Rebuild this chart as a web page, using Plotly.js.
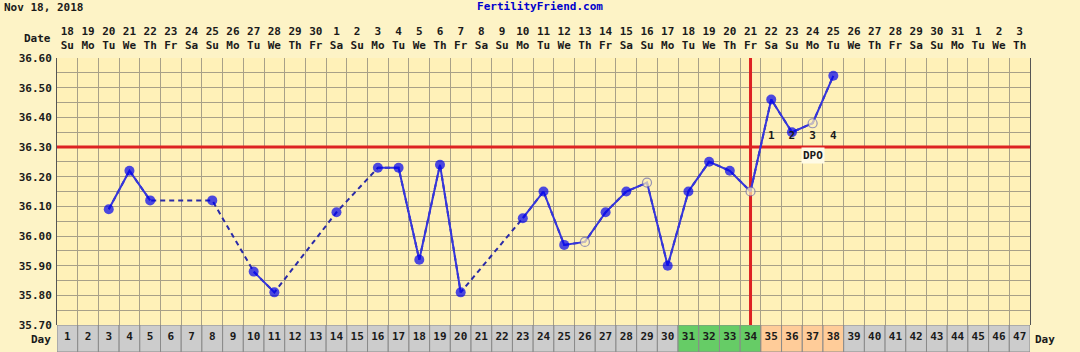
<!DOCTYPE html>
<html><head><meta charset="utf-8">
<script src="https://cdn.plot.ly/plotly-3.0.1.min.js"></script>
<style>html,body{margin:0;padding:0;background:#fdf3c6;}#chart{width:1080px;height:352px;}</style>
</head><body><div id="chart"></div>
<script>
const chartDate = 'Nov 18, 2018';
const siteName = 'FertilityFriend.com';
const dayNums = [1,2,3,4,5,6,7,8,9,10,11,12,13,14,15,16,17,18,19,20,21,22,23,24,25,26,27,28,29,30,31,32,33,34,35,36,37,38,39,40,41,42,43,44,45,46,47];
const dateNums = ['18','19','20','21','22','23','24','25','26','27','28','29','30','1','2','3','4','5','6','7','8','9','10','11','12','13','14','15','16','17','18','19','20','21','22','23','24','25','26','27','28','29','30','31','1','2','3'];
const weekdays = ['Su','Mo','Tu','We','Th','Fr','Sa','Su','Mo','Tu','We','Th','Fr','Sa','Su','Mo','Tu','We','Th','Fr','Sa','Su','Mo','Tu','We','Th','Fr','Sa','Su','Mo','Tu','We','Th','Fr','Sa','Su','Mo','Tu','We','Th','Fr','Sa','Su','Mo','Tu','We','Th'];
const temps = [null,null,36.09,36.22,36.12,null,null,36.12,null,35.88,35.81,null,null,36.08,null,36.23,36.23,35.92,36.24,35.81,null,null,36.06,36.15,35.97,35.98,36.08,36.15,36.18,35.90,36.15,36.25,36.22,36.15,36.46,36.35,36.38,36.54,null,null,null,null,null,null,null,null,null];
const openDays = [26,29,34,37];
const phases = ['n','n','n','n','n','n','n','n','n','n','n','n','n','n','n','n','n','n','n','n','n','n','n','n','n','n','n','n','n','n','f','f','f','f','l','l','l','l','n','n','n','n','n','n','n','n','n'];
const tempTickLabels = ['35.70','35.80','35.90','36.00','36.10','36.20','36.30','36.40','36.50','36.60'];
const coverline = 36.30;
const ovulationDay = 34;
const dpoDays = [35,36,37,38];
const dpoLabels = ['1','2','3','4'];
const dpoTitle = 'DPO';

const BG = '#fdf3c6', PLOT_BG = '#fff1b8', GRID = '#a8a088';
const FONT = {family:'DejaVu Sans Mono', size:11, color:'#1a1a1a', weight:'bold'};
const phaseColor = {n:'#cccccc', f:'#66cc66', l:'#ffcc99'};

const yVals = [], yText = [];
tempTickLabels.forEach((lab, i) => {
  const v = parseFloat(lab);
  yVals.push(v); yText.push(lab);
  if (i < tempTickLabels.length - 1) { yVals.push(Math.round((v + 0.05) * 100) / 100); yText.push(''); }
});
const yMin = parseFloat(tempTickLabels[0]), yMax = parseFloat(tempTickLabels[tempTickLabels.length - 1]);
const xRange = [dayNums[0] - 0.5, dayNums[dayNums.length - 1] + 0.5];

const isOpen = dayNums.map(d => openDays.includes(d));
const traces = [
  {x: dayNums, y: temps, type:'scatter', mode:'lines', connectgaps:true, xaxis:'x', yaxis:'y',
   line:{color:'#2a2aa8', width:2, dash:'5px,4px'}, hoverinfo:'skip'},
  {x: dayNums, y: temps, type:'scatter', mode:'lines+markers', connectgaps:false, xaxis:'x2', yaxis:'y',
   line:{color:'#3535dc', width:2},
   marker:{size: isOpen.map(o => o ? 9 : 10), symbol:'circle',
     color: isOpen.map(o => o ? PLOT_BG : '#0000ee'),
     line:{color: isOpen.map(o => o ? '#6a6ab0' : '#0000ee'), width: isOpen.map(o => o ? 1.2 : 0)}}},
  {x: dpoDays, y: dpoDays.map(() => coverline + 0.035), type:'scatter', mode:'text', text: dpoLabels,
   textfont: FONT, xaxis:'x3', yaxis:'y', hoverinfo:'skip'},
  {x: dayNums, y: dayNums.map(() => 1), type:'bar', xaxis:'x', yaxis:'y2', width:1,
   marker:{color: phases.map(p => phaseColor[p]), line:{color:'#8a8a8a', width:1}}, hoverinfo:'skip'},
  {x: dayNums, y: dayNums.map(() => 0.55), type:'scatter', mode:'text', text: dayNums.map(String),
   textfont: FONT, xaxis:'x', yaxis:'y2', hoverinfo:'skip'}
];

const rowFrac = 27 / 294;
const layout = {
  width:1080, height:352, paper_bgcolor:BG, plot_bgcolor:PLOT_BG, showlegend:false,
  margin:{l:57, r:50, t:58, b:0},
  font: FONT,
  bargap:0,
  title:{text: siteName, x:0.5, xref:'container', xanchor:'center', y:1 - 6/352, yref:'container', yanchor:'middle',
    font:{family:'DejaVu Sans Mono', size:11, color:'#0000cc', weight:'bold'}},
  xaxis:{range:xRange, tickmode:'linear', tick0:0.5, dtick:1, showticklabels:false, ticks:'',
    showgrid:true, gridcolor:GRID, gridwidth:1, zeroline:false, anchor:'y', fixedrange:true},
  xaxis2:{range:xRange, overlaying:'x', side:'top', anchor:'y', tickmode:'array', tickvals:dayNums, ticktext:dateNums,
    ticks:'', showgrid:false, zeroline:false, tickfont:FONT, ticklabelstandoff:20},
  xaxis3:{range:xRange, overlaying:'x', side:'top', anchor:'y', tickmode:'array', tickvals:dayNums, ticktext:weekdays,
    ticks:'', showgrid:false, zeroline:false, tickfont:FONT, ticklabelstandoff:6},
  yaxis:{domain:[rowFrac, 1], range:[yMin, yMax], tickmode:'array', tickvals:yVals, ticktext:yText, ticks:'',
    showgrid:true, gridcolor:GRID, gridwidth:1, zeroline:false, tickfont:FONT, showline:true, linecolor:'#555', mirror:true,
    ticklabelstandoff:2},
  yaxis3:{range:[yMin, yMax], overlaying:'y', side:'right', anchor:'x', tickmode:'array', tickvals:yVals, ticktext:yText,
    ticks:'', showgrid:false, zeroline:false, tickfont:FONT, ticklabelstandoff:2},
  yaxis2:{domain:[0, rowFrac], range:[0, 1], showticklabels:false, showgrid:false, zeroline:false, ticks:''},
  shapes:[
    {type:'line', xref:'x', yref:'y', x0:xRange[0], x1:xRange[1], y0:coverline, y1:coverline, line:{color:'#dd2222', width:3}, layer:'between'},
    {type:'line', xref:'x', yref:'y', x0:ovulationDay, x1:ovulationDay, y0:yMin, y1:yMax, line:{color:'#dd2222', width:3}, layer:'between'}
  ],
  annotations:[
    {text: chartDate, xref:'paper', yref:'paper', x:0, y:1, xanchor:'left', yanchor:'middle', xshift:-55, yshift:51, showarrow:false, font:FONT},
    {text:'Date', xref:'paper', yref:'paper', x:0, y:1, xanchor:'right', yanchor:'middle', xshift:-4, yshift:20, showarrow:false, font:FONT},
    {text:'Day', xref:'paper', yref:'paper', x:0, y:rowFrac/2, xanchor:'right', yanchor:'middle', xshift:-4, yshift:-1, showarrow:false, font:FONT},
    {text:'Day', xref:'paper', yref:'paper', x:1, y:rowFrac/2, xanchor:'left', yanchor:'middle', xshift:3, yshift:-1, showarrow:false, font:FONT},
    {text: dpoTitle, xref:'x', yref:'y', x: dpoDays[2], y: coverline - 0.03, showarrow:false, font:FONT,
     bgcolor:'#fffbe6', borderpad:1}
  ]
};
Plotly.newPlot('chart', traces, layout, {displayModeBar:false, staticPlot:true});
</script></body></html>
